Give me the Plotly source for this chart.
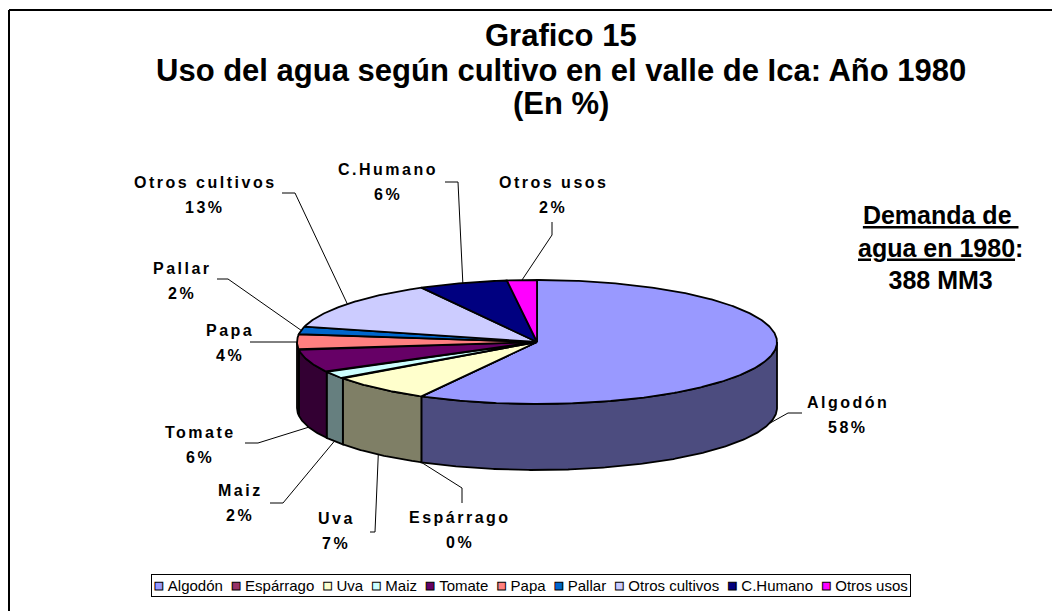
import numpy as np
import plotly.graph_objects as go

# ---------------- data ----------------
categories = ["Algodón", "Espárrago", "Uva", "Maiz", "Tomate", "Papa",
              "Pallar", "Otros cultivos", "C.Humano", "Otros usos"]
values = [58, 0, 7, 2, 6, 4, 2, 13, 6, 2]          # % of water use, 1980
title_lines = ["Grafico 15",
               "Uso del agua según cultivo en el valle de Ica: Año 1980",
               "(En %)"]
demand_label = ["Demanda de ", "agua en 1980", "388 MM3"]

# ---------------- style ----------------
top_colors = ["#9999FF", "#993366", "#FFFFCC", "#CCFFFF", "#660066",
              "#FF8080", "#0066CC", "#CCCCFF", "#000080", "#FF00FF"]


def darker(hexc, f=0.5):
    h = hexc.lstrip("#")
    r, g, b = (int(h[i:i + 2], 16) for i in (0, 2, 4))
    return "#%02X%02X%02X" % (int(r * f), int(g * f), int(b * f))


side_colors = [darker(c) for c in top_colors]
FONT = "Liberation Sans, Arial, sans-serif"
W, H = 1052, 611
CX, CY, RX, RY, DEPTH = 537, 342, 240, 62, 66

# label layout: (label centre x, y) and leader-line bend points
label_layout = {
    "Algodón":        dict(pos=(848, 402), bend=[(788, 413), (802, 413)]),
    "Espárrago":      dict(pos=(460, 517), bend=[(462, 488), (462, 503)]),
    "Uva":            dict(pos=(336, 518), bend=[(375, 532), (370, 532)]),
    "Maiz":           dict(pos=(240, 490), bend=[(283, 503), (270, 503)]),
    "Tomate":         dict(pos=(200, 432), bend=[(258, 443), (245, 443)]),
    "Papa":           dict(pos=(230, 330), bend=[(250, 342)]),
    "Pallar":         dict(pos=(182, 268), bend=[(228, 279), (217, 279)]),
    "Otros cultivos": dict(pos=(205, 182), bend=[(295, 193), (282, 193)]),
    "C.Humano":       dict(pos=(388, 169), bend=[(458, 182), (445, 182)]),
    "Otros usos":     dict(pos=(553, 182), bend=[(552, 235), (552, 222)]),
}

# ---------------- geometry from data ----------------
total = float(sum(values))
cum = np.concatenate([[0], np.cumsum(values)]) / total * 360.0


def rim(t_deg, dy=0.0):
    t = np.radians(t_deg)
    return CX + RX * np.sin(t), CY - RY * np.cos(t) + dy


fig = go.Figure()

# side walls (front half only)
for i, cat in enumerate(categories):
    a0, a1 = cum[i], cum[i + 1]
    s0, s1 = max(a0, 90.0), min(a1, 270.0)
    if s1 <= s0:
        continue
    t = np.linspace(s0, s1, max(int((s1 - s0) * 2), 2))
    xt, yt = rim(t)
    xb, yb = rim(t[::-1], DEPTH)
    xs = np.concatenate([xt, xb, xt[:1]])
    ys = np.concatenate([yt, yb, yt[:1]])
    fig.add_trace(go.Scatter(x=xs, y=ys, mode="lines", fill="toself",
                             fillcolor=side_colors[i],
                             line=dict(color="black", width=1.8),
                             hoverinfo="skip", showlegend=False))

# top faces
for i, cat in enumerate(categories):
    a0, a1 = cum[i], cum[i + 1]
    t = np.linspace(a0, a1, max(int((a1 - a0) * 2), 2))
    xa, ya = rim(t)
    xs = np.concatenate([[CX], xa, [CX]])
    ys = np.concatenate([[CY], ya, [CY]])
    fig.add_trace(go.Scatter(x=xs, y=ys, mode="lines", fill="toself",
                             fillcolor=top_colors[i],
                             line=dict(color="black", width=1.8),
                             name=cat, hoverinfo="skip", showlegend=False))

# data labels + leader lines
annotations = []
for i, cat in enumerate(categories):
    mid = (cum[i] + cum[i + 1]) / 2.0
    if 90.0 < mid < 270.0:
        ax, ay = rim(mid, DEPTH)
    else:
        ax, ay = rim(mid)
    lay = label_layout[cat]
    px = [float(ax)] + [p[0] for p in lay["bend"]]
    py = [float(ay)] + [p[1] for p in lay["bend"]]
    fig.add_trace(go.Scatter(x=px, y=py, mode="lines",
                             line=dict(color="black", width=1),
                             hoverinfo="skip", showlegend=False))
    lx, ly = lay["pos"]
    pct = "%d%%" % round(values[i] / total * 100)
    for txt, yy in ((cat, ly), (pct, ly + 25)):
        annotations.append(dict(
            x=lx, y=yy, xref="x", yref="y", showarrow=False,
            text='<b><span style="letter-spacing:2.5px">%s</span></b>' % txt,
            font=dict(family=FONT, size=16, color="black"),
            xanchor="center", yanchor="middle"))

# title
for txt, yy in zip(title_lines, (35, 70, 103)):
    annotations.append(dict(x=561, y=yy, xref="x", yref="y", showarrow=False,
                            text="<b>%s</b>" % txt,
                            font=dict(family=FONT, size=31, color="black"),
                            xanchor="center", yanchor="middle"))

# demand note
annotations.append(dict(
    x=940, y=247, xref="x", yref="y", showarrow=False,
    text="<b><u>%s</u><br><u>%s</u>:<br>%s</b>" % tuple(demand_label),
    font=dict(family=FONT, size=25, color="black"),
    xanchor="center", yanchor="middle"))

# legend
items = []
for cat, col in zip(categories, top_colors):
    items.append('<span style="font-size:16px;color:%s;stroke:#000000;'
                 'stroke-width:1px">■</span>&nbsp;%s' % (col, cat))
annotations.append(dict(
    x=531, y=585, xref="x", yref="y", showarrow=False,
    text="&nbsp;&nbsp;".join(items),
    font=dict(family=FONT, size=15, color="black"),
    bordercolor="black", borderwidth=1, borderpad=2, bgcolor="white",
    xanchor="center", yanchor="middle"))

shapes = [
    dict(type="line", xref="x", yref="y", x0=9, y0=10, x1=W + 5, y1=10,
         line=dict(color="black", width=2)),
    dict(type="line", xref="x", yref="y", x0=9, y0=10, x1=9, y1=H + 5,
         line=dict(color="black", width=2)),
]

fig.update_layout(
    width=W, height=H, margin=dict(l=0, r=0, t=0, b=0),
    paper_bgcolor="white", plot_bgcolor="white",
    xaxis=dict(range=[0, W], visible=False, fixedrange=True),
    yaxis=dict(range=[H, 0], visible=False, fixedrange=True),
    annotations=annotations, shapes=shapes, showlegend=False,
)

fig.write_html("out.html", config={"displayModeBar": False},
               post_script="document.body.style.margin='0';"
                           "document.body.style.overflow='hidden';")
